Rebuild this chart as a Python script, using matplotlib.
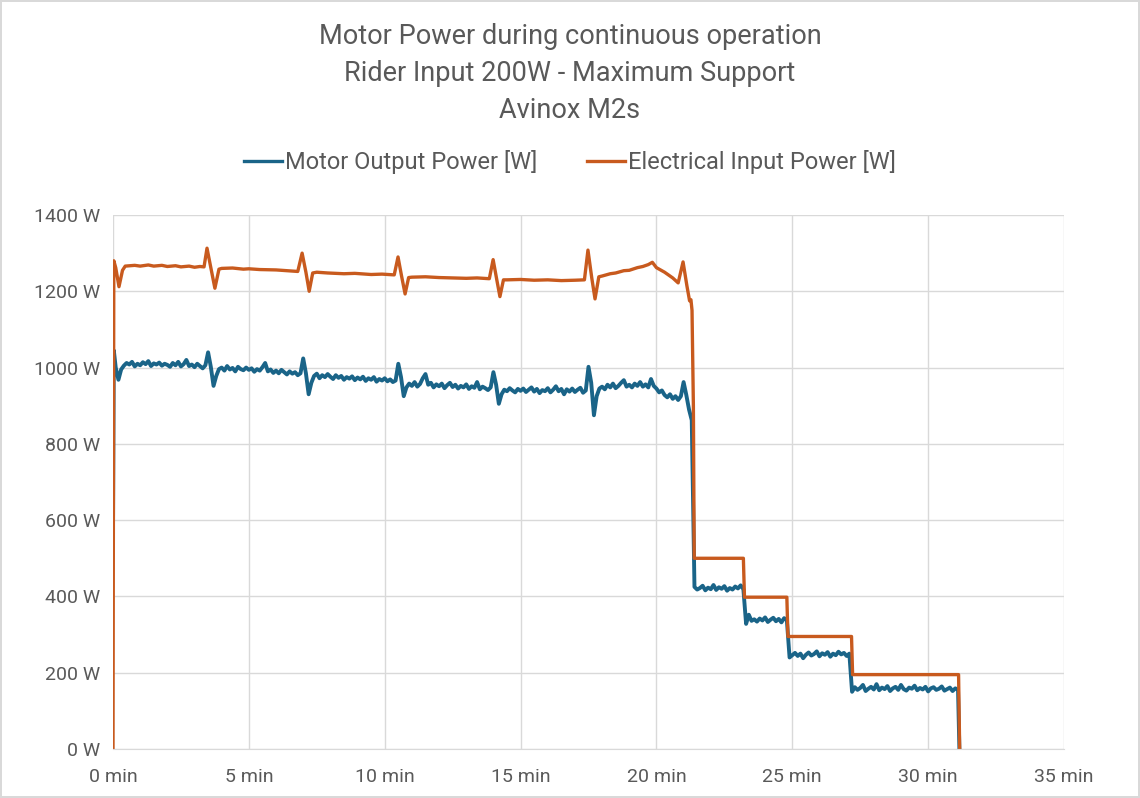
import numpy as np
import matplotlib
matplotlib.use("Agg")
import matplotlib.pyplot as plt
from matplotlib.ticker import FuncFormatter, MultipleLocator

plt.rcParams['font.family'] = ['Roboto', 'DejaVu Sans']

# electrical input power [W] vs. time [min]
elec_t = [0.0, 0.03, 0.1, 0.22, 0.35, 0.45, 0.8, 1.0, 1.3, 1.5, 1.8, 2.0, 2.3, 2.5, 2.8, 3.0, 3.2, 3.35,
          3.46, 3.6, 3.75, 3.9, 4.0, 4.4, 4.8, 5.0, 5.4, 6.0, 6.4, 6.8,
          6.96, 7.1, 7.22, 7.35, 7.5, 7.9, 8.5, 8.9, 9.5, 9.9, 10.35,
          10.49, 10.62, 10.75, 10.88, 11.0, 11.5, 12.0, 12.5, 13.0, 13.4, 13.85,
          13.99, 14.12, 14.24, 14.37, 14.5, 15.0, 15.5, 16.0, 16.5, 17.0, 17.35,
          17.48, 17.62, 17.74, 17.88, 18.0, 18.3, 18.5, 18.8, 19.0, 19.3, 19.5, 19.7, 19.85,
          20.0, 20.3, 20.6, 20.8, 20.98, 21.12, 21.22, 21.27, 21.31, 21.36,
          21.39, 23.2, 23.24, 24.8, 24.84, 27.18, 27.22, 31.12, 31.16]
elec_p = [0, 1280, 1262, 1212, 1255, 1266, 1268, 1266, 1269, 1266, 1268, 1265, 1267, 1264, 1266, 1263, 1265, 1264,
          1313, 1262, 1208, 1258, 1260, 1261, 1258, 1259, 1257, 1256, 1254, 1252,
          1300, 1250, 1200, 1248, 1250, 1248, 1246, 1247, 1244, 1245, 1243,
          1290, 1240, 1193, 1236, 1237, 1238, 1236, 1235, 1234, 1235, 1233,
          1283, 1232, 1186, 1230, 1230, 1231, 1229, 1230, 1228, 1229, 1230,
          1308, 1235, 1180, 1238, 1240, 1246, 1248, 1254, 1255, 1262, 1265, 1270, 1276,
          1262, 1250, 1235, 1222, 1277, 1215, 1175, 1178, 1150, 900,
          500, 500, 398, 398, 295, 295, 195, 195, 0]

# motor output power [W]: start-up, then phases sampled every 0.1 min
motor_start_t = [0.0, 0.03, 0.1, 0.2, 0.3]
motor_start_p = [570, 1045, 1000, 968, 995]

motor_full = [  # 0.4 .. 21.3 min
    1005, 1012, 1008, 1015, 1003, 1010,
    1006, 1014, 1009, 1017, 1004, 1011, 1008, 1013, 1005, 1010,
    1007, 1002, 1012, 1006, 1015, 1003, 1009, 1020, 1004, 1008,
    1001, 1010, 1004, 998, 1006, 1040, 1002, 952, 978, 996,
    1000, 992, 1004, 995, 999, 990, 1002, 996, 993, 1000,
    994, 998, 989, 996, 992, 1001, 1012, 990, 995, 986,
    992, 985, 994, 988, 982, 990, 984, 988, 980, 985,
    1024, 985, 930, 960, 978, 984, 972, 980, 975, 983,
    976, 970, 980, 973, 978, 968, 975, 971, 977, 967,
    974, 969, 976, 965, 972, 968, 975, 963, 970, 966,
    972, 964, 969, 962, 966, 1010, 975, 925, 948, 958,
    952, 962, 950, 957, 972, 983, 955, 960, 948, 956,
    951, 958, 946, 954, 960, 949, 955, 945, 952, 948,
    956, 944, 951, 947, 962, 943, 950, 946, 941, 948,
    988, 955, 905, 930, 942, 938, 946, 940, 935, 944,
    939, 945, 936, 942, 948, 937, 944, 933, 941, 938,
    946, 935, 942, 951, 938, 944, 930, 943, 937, 945,
    936, 942, 947, 934, 940, 1002, 960, 875, 925, 945,
    950, 943, 955, 948, 958, 946, 952, 960, 967, 950,
    955, 948, 958, 952, 962, 950, 956, 948, 970, 952,
    945, 935, 940, 928, 922, 930, 918, 925, 915, 925,
    962, 928, 890, 862]
motor_500 = [425, 418, 422, 428, 416, 423, 419, 430, 417, 424, 420, 427,
             415, 422, 418, 426, 421, 429, 419]  # 21.4 .. 23.2
motor_400 = [328, 352, 336, 340, 334, 342, 337, 345, 333, 339, 344, 335,
             341, 332, 343, 338]  # 23.3 .. 24.8
motor_300 = [240, 246, 252, 244, 250, 238, 247, 253, 245, 249, 256, 243,
             251, 247, 254, 242, 250, 246, 255, 248, 252, 244, 250]  # 24.9 .. 27.1
motor_200 = [150, 162, 155, 160, 168, 152, 158, 163, 156, 170, 154, 161,
             157, 165, 152, 159, 163, 155, 168, 157, 153, 161, 158, 166,
             154, 160, 156, 163, 151, 159, 162, 155, 158, 164, 153, 157,
             161, 152, 159, 155]  # 27.2 .. 31.1
phase_start = [0.4, 21.4, 23.3, 24.9, 27.2]
motor_end_t = [31.15]
motor_end_p = [0]

title = "Motor Power during continuous operation\nRider Input 200W - Maximum Support\nAvinox M2s"
blue = "#1A6488"
orange = "#C85A1E"
grey_text = "#595959"
grid_col = "#D9D9D9"

motor_t = list(motor_start_t)
motor_p = list(motor_start_p)
for start, vals in zip(phase_start, [motor_full, motor_500, motor_400, motor_300, motor_200]):
    motor_t += [start + 0.1 * i for i in range(len(vals))]
    motor_p += vals
motor_t += motor_end_t
motor_p += motor_end_p

fig = plt.figure(figsize=(11.4, 7.98), dpi=100)
fig.patch.set_edgecolor(grid_col)
fig.patch.set_linewidth(1.5)
ax = fig.add_axes([113 / 1140, 1 - 749 / 798, (1064 - 113) / 1140, (749 - 215) / 798])

ax.plot(motor_t, motor_p, color=blue, lw=2.8, label="Motor Output Power [W]", solid_joinstyle="round")
ax.plot(elec_t, elec_p, color=orange, lw=2.4, label="Electrical Input Power [W]", solid_joinstyle="round")

ax.set_xlim(0, 35)
ax.set_ylim(0, 1400)
ax.xaxis.set_major_locator(MultipleLocator(5))
ax.yaxis.set_major_locator(MultipleLocator(200))
ax.xaxis.set_major_formatter(FuncFormatter(lambda v, p: f"{v:.0f} min"))
ax.yaxis.set_major_formatter(FuncFormatter(lambda v, p: f"{v:.0f} W"))
ax.grid(True, color=grid_col, lw=1)
ax.set_axisbelow(True)
for s in ["top", "right", "left"]:
    ax.spines[s].set_visible(False)
ax.spines["bottom"].set_color(grid_col)
ax.tick_params(length=0, labelsize=14, colors=grey_text)
ax.tick_params(axis="x", pad=14)
ax.tick_params(axis="y", pad=9)

fig.text(0.5, 1 - 73.5 / 798, title, ha="center", va="center", fontsize=19.5,
         color=grey_text, linespacing=1.5)
leg = fig.legend(loc="center", bbox_to_anchor=(0.5, 1 - 162 / 798), ncol=2, frameon=False,
                 fontsize=17, labelcolor=grey_text, handlelength=1.6, handletextpad=0.15,
                 columnspacing=2.1)
for h in leg.get_lines():
    h.set_linewidth(2.4)

fig.savefig("out.png", dpi=100)
